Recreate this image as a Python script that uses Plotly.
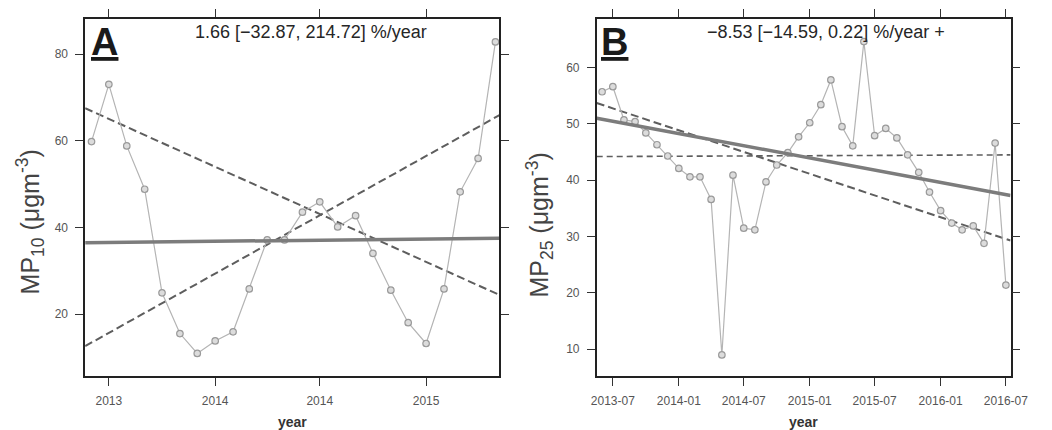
import plotly.graph_objects as go

# ---------------- data ----------------
months_A = ["2013-06-01", "2013-07-01", "2013-08-01", "2013-09-01", "2013-10-01", "2013-11-01",
            "2013-12-01", "2014-01-01", "2014-02-01", "2014-03-01", "2014-04-01", "2014-05-01",
            "2014-06-01", "2014-07-01", "2014-08-01", "2014-09-01", "2014-10-01", "2014-11-01",
            "2014-12-01", "2015-01-01", "2015-02-01", "2015-03-01", "2015-04-01", "2015-05-01"]
mp10 = [59.8, 73.0, 58.8, 48.8, 24.9, 15.5, 10.9, 13.8, 15.9, 25.8, 37.1, 37.1,
        43.5, 45.9, 40.1, 42.7, 34.0, 25.5, 18.0, 13.2, 25.8, 48.2, 55.9, 82.8]

months_B = ["2013-06-01", "2013-07-01", "2013-08-01", "2013-09-01", "2013-10-01", "2013-11-01",
            "2013-12-01", "2014-01-01", "2014-02-01", "2014-03-01", "2014-04-01", "2014-05-01",
            "2014-06-01", "2014-07-01", "2014-08-01", "2014-09-01", "2014-10-01", "2014-11-01",
            "2014-12-01", "2015-01-01", "2015-02-01", "2015-03-01", "2015-04-01", "2015-05-01",
            "2015-06-01", "2015-07-01", "2015-08-01", "2015-09-01", "2015-10-01", "2015-11-01",
            "2015-12-01", "2016-01-01", "2016-02-01", "2016-03-01", "2016-04-01", "2016-05-01",
            "2016-06-01", "2016-07-01"]
mp25 = [55.7, 56.6, 50.7, 50.4, 48.4, 46.3, 44.3, 42.1, 40.6, 40.6, 36.6, 9.0,
        40.9, 31.5, 31.2, 39.7, 42.7, 44.9, 47.7, 50.2, 53.4, 57.8, 49.5, 46.1,
        64.6, 47.9, 49.2, 47.5, 44.5, 41.4, 37.9, 34.6, 32.4, 31.2, 31.9, 28.8,
        46.6, 21.4]

# Theil-Sen trend (solid) and confidence bounds (dashed), at the ends of the x range
trend_dates_A = ["2013-05-21", "2015-05-08"]
trend_A = [36.45, 37.5]
lower_A = [67.5, 24.4]
upper_A = [12.6, 65.9]

trend_dates_B = ["2013-05-17", "2016-07-14"]
trend_B = [51.0, 37.3]
lower_B = [53.7, 29.3]
upper_B = [44.2, 44.5]

stat_A = "1.66 [−32.87, 214.72] %/year"
stat_B = "−8.53 [−14.59, 0.22] %/year +"

xticks_A = ["2013-07-01", "2014-01-01", "2014-07-01", "2015-01-01"]
xlabels_A = ["2013", "2014", "2014", "2015"]
xticks_B = ["2013-07-01", "2014-01-01", "2014-07-01", "2015-01-01", "2015-07-01", "2016-01-01", "2016-07-01"]
xlabels_B = ["2013-07", "2014-01", "2014-07", "2015-01", "2015-07", "2016-01", "2016-07"]
yticks_A = [20, 40, 60, 80]
yticks_B = [10, 20, 30, 40, 50, 60]

# ---------------- styles ----------------
FONT = "Liberation Sans, Arial, sans-serif"
LINE_C = "#b4b4b4"
MARK = dict(symbol="circle", size=6.5, color="#dcdcdc", line=dict(color="#9a9a9a", width=1.2))
TREND = dict(color="#7c7c7c", width=3.5)
DASH = dict(color="#5e5e5e", width=2, dash="8px,4px")
DASH_THIN = dict(color="#5e5e5e", width=1.6, dash="6px,4px")

fig = go.Figure()


def add_panel(xs, ys, tdates, tr, lo, up, xa, ya, up_style):
    fig.add_trace(go.Scatter(x=tdates, y=lo, mode="lines", line=DASH, xaxis=xa, yaxis=ya,
                             showlegend=False, hoverinfo="skip"))
    fig.add_trace(go.Scatter(x=tdates, y=up, mode="lines", line=up_style, xaxis=xa, yaxis=ya,
                             showlegend=False, hoverinfo="skip"))
    fig.add_trace(go.Scatter(x=xs, y=ys, mode="lines+markers", line=dict(color=LINE_C, width=1.2),
                             marker=MARK, xaxis=xa, yaxis=ya, showlegend=False))
    fig.add_trace(go.Scatter(x=tdates, y=tr, mode="lines", line=TREND, xaxis=xa, yaxis=ya,
                             showlegend=False, hoverinfo="skip"))


add_panel(months_A, mp10, trend_dates_A, trend_A, lower_A, upper_A, "x", "y", DASH)
add_panel(months_B, mp25, trend_dates_B, trend_B, lower_B, upper_B, "x2", "y2", DASH_THIN)

ydom = [1 - 376 / 430, 1 - 18.5 / 430]
dA = [81 / 1052, 505 / 1052]
dB = [604.5 / 1052, 1028 / 1052]

axis_common = dict(showline=True, linecolor="#222", linewidth=1.5, mirror="ticks",
                   ticks="outside", ticklen=8, tickwidth=1.4, tickcolor="#333",
                   showgrid=False, zeroline=False, ticklabelstandoff=5,
                   tickfont=dict(family=FONT, size=12, color="#555"))

fig.update_layout(
    width=1052, height=430,
    margin=dict(l=0, r=0, t=0, b=0),
    paper_bgcolor="white", plot_bgcolor="white",
    font=dict(family=FONT, color="#333"),
    xaxis=dict(domain=dA, anchor="y", type="date", range=trend_dates_A,
               tickvals=xticks_A, ticktext=xlabels_A, **axis_common),
    yaxis=dict(domain=ydom, anchor="x", range=[5.7, 88.2], tickvals=yticks_A, **axis_common),
    xaxis2=dict(domain=dB, anchor="y2", type="date", range=trend_dates_B,
                tickvals=xticks_B, ticktext=xlabels_B, **axis_common),
    yaxis2=dict(domain=ydom, anchor="x2", range=[5.26, 68.7], tickvals=yticks_B, **axis_common),
)

ann = []
# stats text
ann.append(dict(x=312 / 1052, y=1 - 32 / 430, xref="paper", yref="paper", text=stat_A,
                showarrow=False, font=dict(family=FONT, size=18, color="#262626"),
                xanchor="center", yanchor="middle"))
ann.append(dict(x=839 / 1052, y=1 - 32 / 430, xref="paper", yref="paper", text=stat_B,
                showarrow=False, font=dict(family=FONT, size=18, color="#262626"),
                xanchor="center", yanchor="middle"))
# panel letters
ann.append(dict(x=100.5 / 1052, y=1 - 42 / 430, xref="paper", yref="paper", text="<b><u>A</u></b>",
                showarrow=False, font=dict(family=FONT, size=38, color="#1a1a1a"),
                xanchor="center", yanchor="middle"))
ann.append(dict(x=622.5 / 1052, y=1 - 42 / 430, xref="paper", yref="paper", text="<b><u>B</u></b>",
                showarrow=False, font=dict(family=FONT, size=38, color="#1a1a1a"),
                xanchor="center", yanchor="middle"))
# x titles
ann.append(dict(x=293 / 1052, y=1 - 422 / 430, xref="paper", yref="paper", text="<b>year</b>",
                showarrow=False, font=dict(family=FONT, size=14, color="#333"),
                xanchor="center", yanchor="middle"))
ann.append(dict(x=816 / 1052, y=1 - 422 / 430, xref="paper", yref="paper", text="<b>year</b>",
                showarrow=False, font=dict(family=FONT, size=14, color="#333"),
                xanchor="center", yanchor="middle"))
# y titles
ann.append(dict(x=25 / 1052, y=1 - 222 / 430, xref="paper", yref="paper",
                text="MP<sub>10</sub> (μgm<sup>-3</sup>)", textangle=-90,
                showarrow=False, font=dict(family=FONT, size=25, color="#444"),
                xanchor="center", yanchor="middle"))
ann.append(dict(x=546 / 1052, y=1 - 225 / 430, xref="paper", yref="paper",
                text="MP<sub>25</sub> (μgm<sup>-3</sup>)", textangle=-90,
                showarrow=False, font=dict(family=FONT, size=25, color="#444"),
                xanchor="center", yanchor="middle"))
fig.update_layout(annotations=ann)

fig.write_html("out.html", config={"displayModeBar": False},
               post_script="document.body.style.margin='0';document.body.style.overflow='hidden';")
